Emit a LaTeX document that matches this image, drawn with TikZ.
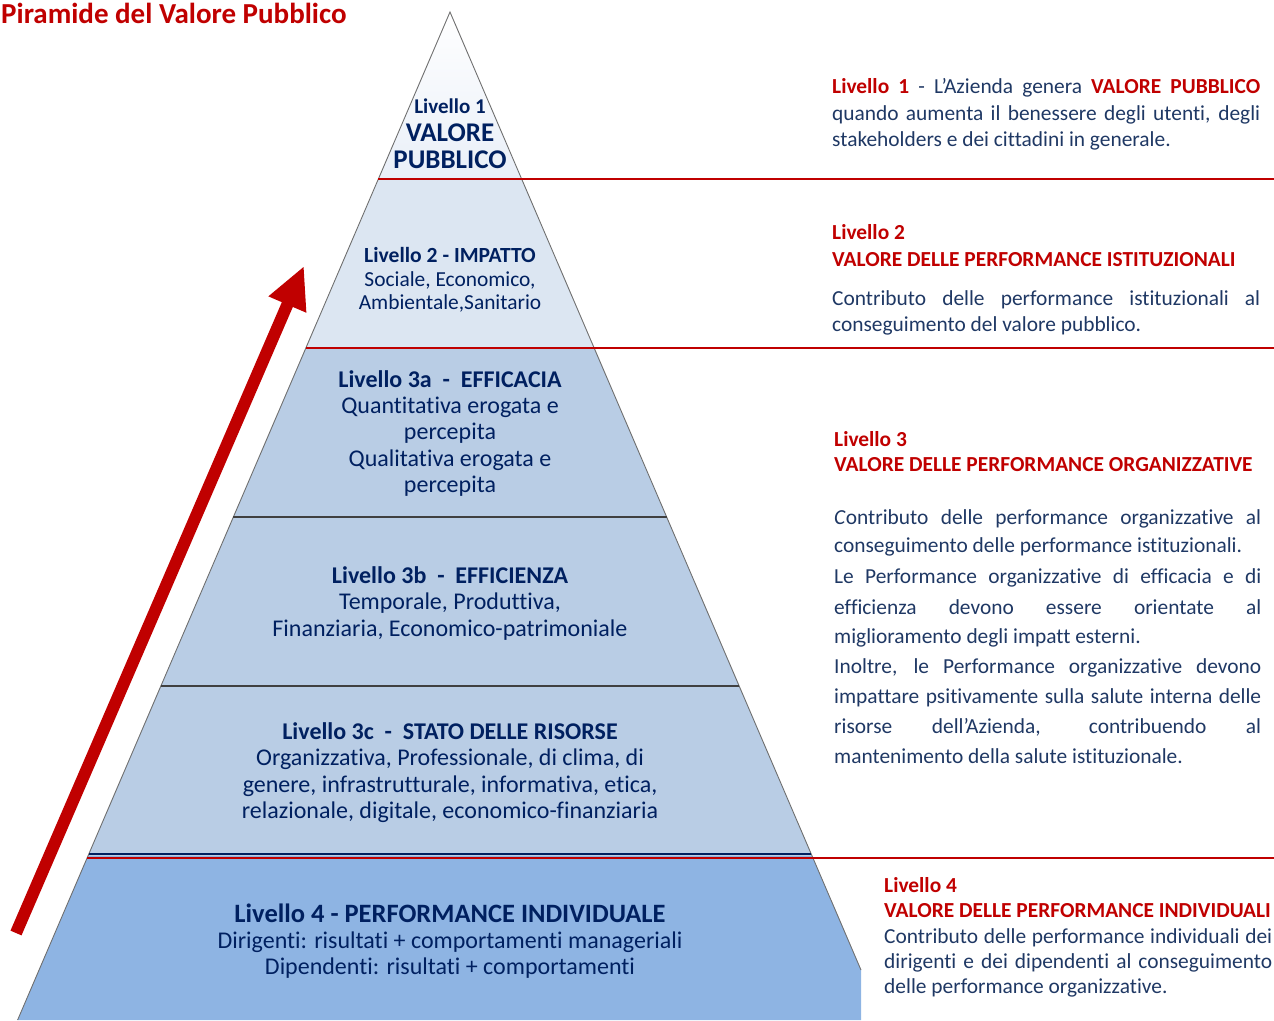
\documentclass[tikz,border=0pt]{standalone}
\usepackage{fontspec}
\setmainfont{Carlito}[Ligatures={TeX,NoCommon}]
\usetikzlibrary{arrows.meta}
\definecolor{navy}{HTML}{002060}
\definecolor{bodyblue}{HTML}{1F3864}
\definecolor{pred}{HTML}{C00000}
\definecolor{levA}{HTML}{E9EFF8}
\definecolor{levB}{HTML}{DCE6F2}
\definecolor{levC}{HTML}{B9CDE5}
\definecolor{levD}{HTML}{8EB4E3}
\definecolor{sepgray}{HTML}{404040}
\definecolor{edgegray}{HTML}{6F6F6F}
\newcommand{\fs}[1]{\fontsize{#1}{#1}\selectfont}
\newcommand{\jl}[2]{\makebox[#1][s]{#2}}
\newcommand{\rb}[1]{\textbf{\color{pred}#1}}
\begin{document}
\begin{tikzpicture}[x=1pt,y=-1pt,
  ptxt/.style={anchor=base, text=navy, inner sep=0pt},
  rtxt/.style={anchor=base west, text=bodyblue, inner sep=0pt, font=\fs{21.4}},
  rhead/.style={anchor=base west, text=pred, inner sep=0pt, font=\fs{21.4}\bfseries},
  redline/.style={draw=pred, line width=1.5pt},
  sepline/.style={draw=sepgray, line width=1.2pt},
  pyredge/.style={draw=edgegray, line width=0.9pt}]
\useasboundingbox (0,0) rectangle (1274,1020);

% pyramid fills
\shade[top color=white, bottom color=levA] (450,12) -- (521.6,179) -- (378.4,179) -- cycle;
\fill[levB] (378.4,179) -- (521.6,179) -- (594.1,348) -- (305.9,348) -- cycle;
\fill[levC] (305.9,348) -- (594.1,348) -- (812.1,856) -- (87.9,856) -- cycle;
\fill[levD] (87.9,856) -- (812.1,856) -- (861,970) -- (861,1020) -- (17.6,1020) -- cycle;

% pyramid outline
\draw[pyredge] (17.6,1020) -- (450,12) -- (861,970);

% separators
\draw[sepline] (233.4,517) -- (666.6,517);
\draw[sepline] (160.9,686) -- (739.1,686);
\draw[draw=navy, line width=1.2pt] (88.8,854) -- (811.2,854);

% red lines
\draw[redline] (378.4,179) -- (1274,179);
\draw[redline] (305.9,348) -- (1274,348);
\draw[redline] (87.0,858) -- (1274,858);

% arrow
\coordinate (arrS) at (16,933);
\coordinate (arrE) at (304,266);
\draw[draw=pred, line width=12pt, -{Triangle[length=42pt,width=38pt]}] (arrS) -- (arrE);

% title
\node[anchor=base west, inner sep=0pt, text=pred, font=\fs{29}\bfseries] (title) at (1,23) {Piramide del Valore Pubblico};

% pyramid texts
\node[ptxt, font=\fs{21}\bfseries] (p1a) at (450,113) {Livello 1};
\node[ptxt, font=\fs{27}\bfseries] (p1b) at (450,141) {VALORE};
\node[ptxt, font=\fs{27}\bfseries] (p1c) at (450,168) {PUBBLICO};

\node[ptxt, font=\fs{21.6}\bfseries] (p2a) at (450,262) {Livello 2 - IMPATTO};
\node[ptxt, font=\fs{21.4}] (p2b) at (450,286) {Sociale, Economico,};
\node[ptxt, font=\fs{21.4}] (p2c) at (450,309) {Ambientale,Sanitario};

\node[ptxt, font=\fs{24}\bfseries] (p3a) at (450,387) {Livello 3a\ \ -\ \ EFFICACIA};
\node[ptxt, font=\fs{24}] (p3b) at (450,413) {Quantitativa erogata e};
\node[ptxt, font=\fs{24}] (p3c) at (450,439) {percepita};
\node[ptxt, font=\fs{24}] (p3d) at (450,466) {Qualitativa erogata e};
\node[ptxt, font=\fs{24}] (p3e) at (450,492) {percepita};

\node[ptxt, font=\fs{24}\bfseries] (p4a) at (450,583) {Livello 3b\ \ -\ \ EFFICIENZA};
\node[ptxt, font=\fs{24}] (p4b) at (450,609) {Temporale, Produttiva,};
\node[ptxt, font=\fs{24}] (p4c) at (450,636) {Finanziaria, Economico-patrimoniale};

\node[ptxt, font=\fs{24}\bfseries] (p5a) at (450,739) {Livello 3c\ \ -\ \ STATO DELLE RISORSE};
\node[ptxt, font=\fs{24}] (p5b) at (450,765) {Organizzativa, Professionale, di clima, di};
\node[ptxt, font=\fs{24}] (p5c) at (450,792) {genere, infrastrutturale, informativa, etica,};
\node[ptxt, font=\fs{24}] (p5d) at (450,818) {relazionale, digitale, economico-finanziaria};

\node[ptxt, font=\fs{26.5}\bfseries] (p6a) at (450,922) {Livello 4 - PERFORMANCE INDIVIDUALE};
\node[ptxt, font=\fs{24}] (p6b) at (450,948) {Dirigenti: risultati + comportamenti manageriali};
\node[ptxt, font=\fs{24}] (p6c) at (450,974) {Dipendenti: risultati + comportamenti};

% right texts level 1
\node[rtxt] (r1a) at (832,93) {\jl{428pt}{\rb{Livello 1} - L’Azienda genera \rb{VALORE PUBBLICO}}};
\node[rtxt] (r1b) at (832,120) {\jl{428pt}{quando aumenta il benessere degli utenti, degli}};
\node[rtxt] (r1c) at (832,146) {stakeholders e dei cittadini in generale.};

% level 2
\node[rhead] (r2a) at (832,239) {Livello 2};
\node[rhead] (r2b) at (832,266) {VALORE DELLE PERFORMANCE ISTITUZIONALI};
\node[rtxt] (r2c) at (832,305) {\jl{428pt}{Contributo delle performance istituzionali al}};
\node[rtxt] (r2d) at (832,331) {conseguimento del valore pubblico.};

% level 3
\node[rhead] (r3a) at (834,446) {Livello 3};
\node[rhead] (r3b) at (834,471) {VALORE DELLE PERFORMANCE ORGANIZZATIVE};
\node[rtxt] (r3c) at (834,524) {\jl{427pt}{\textit{C}ontributo delle performance organizzative al}};
\node[rtxt] (r3d) at (834,552) {conseguimento delle performance istituzionali.};
\node[rtxt] (r3e) at (834,583) {\jl{427pt}{Le Performance organizzative di efficacia e di}};
\node[rtxt] (r3f) at (834,614) {\jl{427pt}{efficienza devono essere orientate al}};
\node[rtxt] (r3g) at (834,643) {miglioramento degli impatt esterni.};
\node[rtxt] (r3h) at (834,673) {\jl{427pt}{Inoltre, le Performance organizzative devono}};
\node[rtxt] (r3i) at (834,703) {\jl{427pt}{impattare psitivamente sulla salute interna delle}};
\node[rtxt] (r3j) at (834,733) {\jl{427pt}{risorse dell’Azienda, contribuendo al}};
\node[rtxt] (r3k) at (834,763) {mantenimento della salute istituzionale.};

% level 4
\node[rhead] (r4a) at (884,892) {Livello 4};
\node[rhead] (r4b) at (884,917) {VALORE DELLE PERFORMANCE INDIVIDUALI};
\node[rtxt] (r4c) at (884,943) {\jl{388pt}{Contributo delle performance individuali dei}};
\node[rtxt] (r4d) at (884,968) {\jl{388pt}{dirigenti e dei dipendenti al conseguimento}};
\node[rtxt] (r4e) at (884,993) {delle performance organizzative.};
\end{tikzpicture}
\end{document}
